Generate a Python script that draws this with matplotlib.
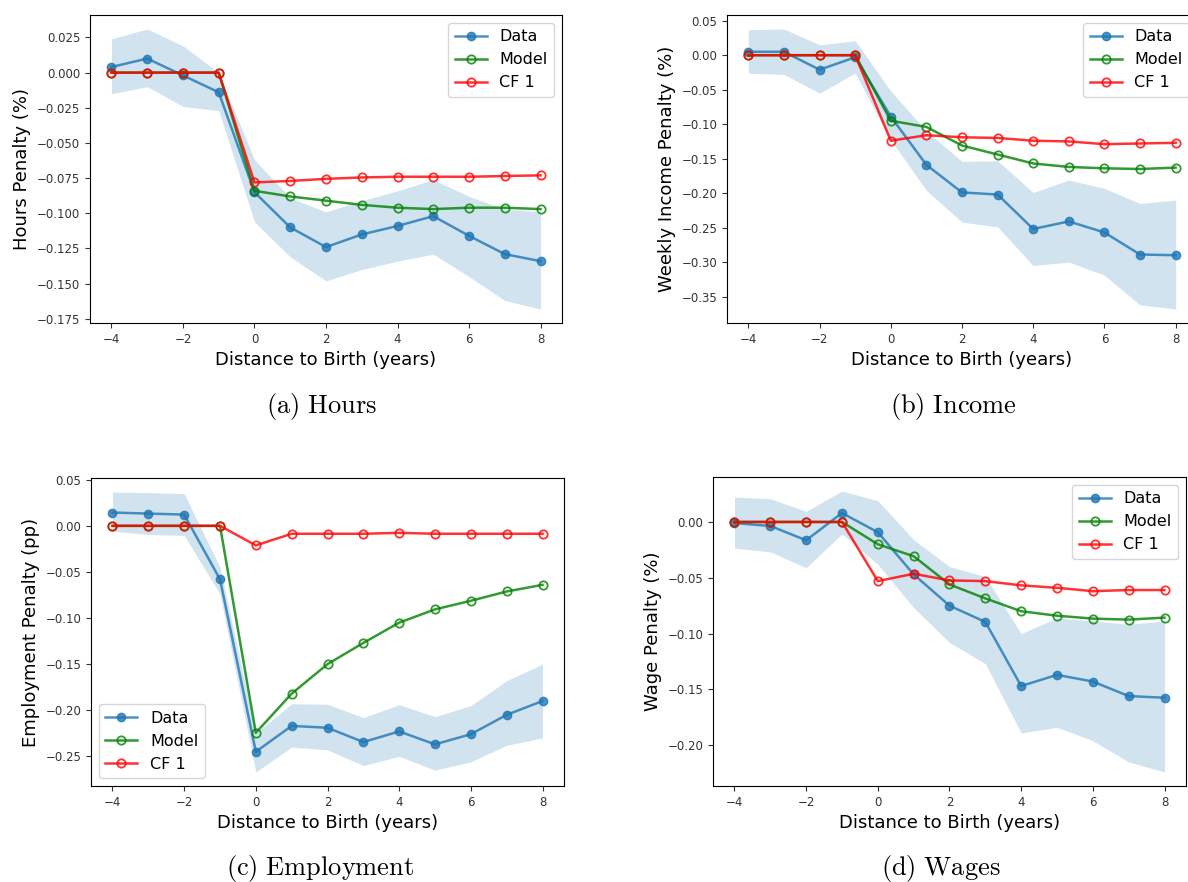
import matplotlib
matplotlib.use("Agg")
import matplotlib.pyplot as plt

plt.rcParams['mathtext.fontset'] = 'cm'

years = [-4, -3, -2, -1, 0, 1, 2, 3, 4, 5, 6, 7, 8]

# (a) Hours
hours_data = [0.004, 0.010, -0.002, -0.014, -0.085, -0.110, -0.124, -0.115, -0.109, -0.102, -0.116, -0.129, -0.134]
hours_hi = [0.024, 0.031, 0.019, 0.000, -0.062, -0.089, -0.099, -0.091, -0.084, -0.076, -0.088, -0.097, -0.099]
hours_lo = [-0.015, -0.010, -0.024, -0.027, -0.106, -0.131, -0.148, -0.140, -0.134, -0.129, -0.145, -0.162, -0.168]
hours_model = [0.0, 0.0, 0.0, 0.0, -0.084, -0.088, -0.091, -0.094, -0.096, -0.097, -0.096, -0.096, -0.097]
hours_cf1 = [0.0, 0.0, 0.0, 0.0, -0.078, -0.077, -0.0755, -0.0745, -0.074, -0.074, -0.074, -0.0735, -0.073]

# (b) Income
income_data = [0.005, 0.005, -0.021, -0.003, -0.089, -0.159, -0.199, -0.202, -0.252, -0.241, -0.257, -0.289, -0.290]
income_hi = [0.037, 0.038, 0.015, 0.021, -0.052, -0.110, -0.154, -0.153, -0.199, -0.181, -0.193, -0.215, -0.210]
income_lo = [-0.026, -0.028, -0.055, -0.026, -0.123, -0.196, -0.242, -0.249, -0.305, -0.300, -0.319, -0.362, -0.368]
income_model = [0.0, 0.0, 0.0, 0.0, -0.095, -0.104, -0.131, -0.144, -0.157, -0.162, -0.164, -0.165, -0.163]
income_cf1 = [0.0, 0.0, 0.0, 0.0, -0.124, -0.116, -0.119, -0.120, -0.124, -0.125, -0.129, -0.128, -0.127]

# (c) Employment
emp_data = [0.0144, 0.0133, 0.0122, -0.058, -0.245, -0.217, -0.219, -0.2345, -0.223, -0.237, -0.226, -0.205, -0.190]
emp_hi = [0.0367, 0.036, 0.035, -0.045, -0.225, -0.193, -0.1935, -0.208, -0.194, -0.207, -0.195, -0.168, -0.150]
emp_lo = [-0.0058, -0.0094, -0.0104, -0.074, -0.267, -0.240, -0.243, -0.260, -0.250, -0.265, -0.256, -0.238, -0.230]
emp_model = [0.0, 0.0, 0.0, 0.0, -0.2245, -0.182, -0.150, -0.127, -0.105, -0.0906, -0.0813, -0.0712, -0.064]
emp_cf1 = [0.0, 0.0, 0.0, 0.0, -0.0212, -0.0086, -0.0086, -0.0086, -0.0076, -0.0086, -0.0086, -0.0086, -0.0086]

# (d) Wages
wage_data = [-0.001, -0.0036, -0.0164, 0.008, -0.0092, -0.047, -0.075, -0.0896, -0.147, -0.137, -0.143, -0.156, -0.1575]
wage_hi = [0.0223, 0.0208, 0.0095, 0.0277, 0.019, -0.0158, -0.040, -0.049, -0.100, -0.086, -0.0887, -0.0917, -0.0887]
wage_lo = [-0.0235, -0.0268, -0.041, -0.0107, -0.038, -0.0768, -0.108, -0.127, -0.189, -0.184, -0.196, -0.215, -0.224]
wage_model = [0.0, 0.0, 0.0, 0.0, -0.020, -0.0307, -0.056, -0.0685, -0.080, -0.084, -0.0866, -0.0875, -0.0857]
wage_cf1 = [0.0, 0.0, 0.0, 0.0, -0.053, -0.0464, -0.0524, -0.053, -0.0568, -0.059, -0.062, -0.061, -0.061]

W, H = 1188, 882
fig = plt.figure(figsize=(W / 100, H / 100), dpi=100)


def make_axes(left, right, top, bottom):
    return fig.add_axes([left / W, 1 - bottom / H, (right - left) / W, (bottom - top) / H])


def panel(ax, data, lo, hi, model, cf1, ylabel, loc):
    ax.fill_between(years, lo, hi, color='C0', alpha=0.2, linewidth=0)
    ax.plot(years, data, 'o-', color='C0', alpha=0.8, lw=1.8, markersize=6, label='Data')
    ax.plot(years, model, 'o-', color='g', alpha=0.8, lw=1.8, markersize=6,
            markerfacecolor='none', markeredgewidth=1.3, label='Model')
    ax.plot(years, cf1, 'o-', color='r', alpha=0.8, lw=1.8, markersize=6,
            markerfacecolor='none', markeredgewidth=1.3, label='CF 1')
    ax.set_xlabel('Distance to Birth (years)', fontsize=13)
    ax.set_ylabel(ylabel, fontsize=13)
    ax.tick_params(labelsize=8.5, colors='#333333', labelcolor='#333333')
    ax.legend(loc=loc, fontsize=11.5)


ax_a = make_axes(90, 562, 15, 323)
panel(ax_a, hours_data, hours_lo, hours_hi, hours_model, hours_cf1, 'Hours Penalty (%)', 'upper right')

# right part of panel (b) runs past the edge of the picture
ax_b = make_axes(727, 1197, 15, 323)
panel(ax_b, income_data, income_lo, income_hi, income_model, income_cf1, 'Weekly Income Penalty (%)', 'upper right')

ax_c = make_axes(91, 564, 478, 786)
panel(ax_c, emp_data, emp_lo, emp_hi, emp_model, emp_cf1, 'Employment Penalty (pp)', 'lower left')

ax_d = make_axes(713, 1186, 477, 786)
panel(ax_d, wage_data, wage_lo, wage_hi, wage_model, wage_cf1, 'Wage Penalty (%)', 'upper right')

captions = [(321, 407, r'$\mathrm{(a)\ Hours}$'),
            (953, 407, r'$\mathrm{(b)\ Income}$'),
            (320, 868, r'$\mathrm{(c)\ Employment}$'),
            (941, 868, r'$\mathrm{(d)\ Wages}$')]
for cx, cy, txt in captions:
    fig.text(cx / W, 1 - cy / H, txt, fontsize=19, ha='center', va='center')

fig.savefig('out.png', dpi=100)
